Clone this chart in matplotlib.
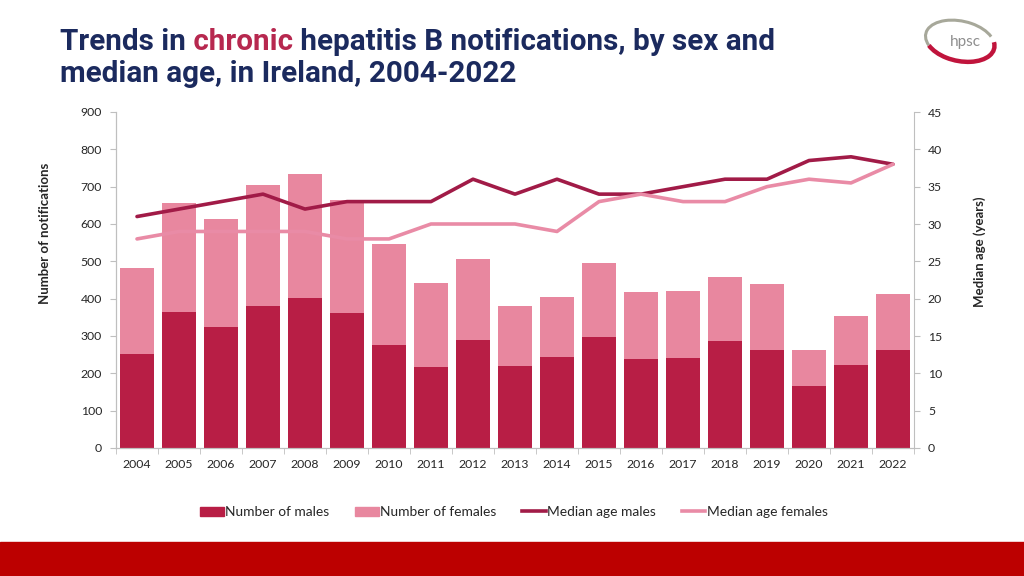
import numpy as np
import matplotlib.pyplot as plt
from matplotlib.patches import Rectangle, Arc, Patch
from matplotlib.lines import Line2D

years = [str(y) for y in range(2004, 2023)]
males = [252, 364, 324, 380, 402, 361, 275, 218, 289, 220, 244, 296, 238, 242, 287, 262, 166, 222, 262]
females = [230, 291, 290, 324, 332, 303, 271, 225, 216, 161, 160, 200, 179, 178, 171, 176, 97, 131, 151]
median_males = [31, 32, 33, 34, 32, 33, 33, 33, 36, 34, 36, 34, 34, 35, 36, 36, 38.5, 39, 38]
median_females = [28, 29, 29, 29, 29, 28, 28, 30, 30, 30, 29, 33, 34, 33, 33, 35, 36, 35.5, 38]

c_male = "#B81E45"
c_female = "#E8879F"
c_mline = "#A11B47"
c_fline = "#E98BA6"
navy = "#1B2A5E"
axis_grey = "#BFBFBF"
text_col = "#262626"

plt.rcParams['font.family'] = ['Lato', 'DejaVu Sans']

fig = plt.figure(figsize=(10.24, 5.76), dpi=100)
ax = fig.add_axes([116 / 1024, 1 - 448 / 576, 798 / 1024, 336 / 576])
ax2 = ax.twinx()

x = np.arange(len(years))
ax.bar(x, males, width=0.79, color=c_male, zorder=2)
ax.bar(x, females, width=0.79, bottom=males, color=c_female, zorder=2)
ax2.plot(x, median_males, color=c_mline, lw=2.6, solid_capstyle='round')
ax2.plot(x, median_females, color=c_fline, lw=2.6, solid_capstyle='round')

ax.set_xlim(-0.5, len(years) - 0.5)
ax.set_ylim(0, 900)
ax2.set_ylim(0, 45)
ax.set_yticks(range(0, 901, 100))
ax2.set_yticks(range(0, 46, 5))
ax.set_xticks(x)
ax.set_xticklabels(years)
ax.set_xticks(np.arange(-0.5, len(years)), minor=True)
ax.tick_params(axis='x', which='major', length=0, pad=8, labelsize=8.8, labelcolor=text_col)
ax.tick_params(axis='x', which='minor', length=4, color=axis_grey)
ax.tick_params(axis='y', length=4, color=axis_grey, labelsize=8.8, labelcolor=text_col, pad=6)
ax2.tick_params(axis='y', length=4, color=axis_grey, labelsize=8.8, labelcolor=text_col, pad=6)

for a in (ax, ax2):
    a.spines['top'].set_visible(False)
    for s in ('left', 'right', 'bottom'):
        a.spines[s].set_color(axis_grey)
ax.spines['right'].set_visible(False)

fig.text(45 / 1024, 1 - 233 / 576, "Number of notifications", rotation=90, ha='center', va='center',
         fontsize=9.5, fontweight='bold', color=text_col)
fig.text(980 / 1024, 1 - 252 / 576, "Median age (years)", rotation=90, ha='center', va='center',
         fontsize=9.5, fontweight='bold', color=text_col)

# title, with "chronic" in red
fig.canvas.draw()
renderer = fig.canvas.get_renderer()
tkw = dict(fontsize=21.3, fontweight='bold', family=['Roboto', 'DejaVu Sans'], va='baseline')
x0 = 60
yb = 576 - 50
for piece, col in [("Trends in", navy), (" chronic", "#B7284F"), (" hepatitis B notifications, by sex and", navy)]:
    t = fig.text(x0 / 1024, yb / 576, piece, color=col, **tkw)
    x0 = t.get_window_extent(renderer).x1
fig.text(60 / 1024, (576 - 82) / 576, "median age, in Ireland, 2004-2022", color=navy, **tkw)

# hpsc logo
lax = fig.add_axes([915 / 1024, 1 - 72 / 576, 90 / 1024, 60 / 576])
lax.set_xlim(0, 90)
lax.set_ylim(0, 60)
lax.axis('off')
lax.add_patch(Arc((45, 31), 70, 40, angle=-12, theta1=20, theta2=200, color="#A7A89A", lw=2.2))
lax.add_patch(Arc((45, 31), 70, 40, angle=-12, theta1=200, theta2=370, color="#C0143C", lw=3.2))
lax.text(50, 30, "hpsc", color="#8E8E8E", fontsize=11, ha='center', va='center')

# legend
handles = [Patch(color=c_male), Patch(color=c_female),
           Line2D([], [], color=c_mline, lw=2.6), Line2D([], [], color=c_fline, lw=2.6)]
labels = ["Number of males", "Number of females", "Median age males", "Median age females"]
fig.legend(handles, labels, loc='center', bbox_to_anchor=(514 / 1024, 1 - 512 / 576), ncol=4,
           frameon=False, fontsize=9.9, handlelength=1.7, handleheight=0.65, handletextpad=0.1,
           columnspacing=1.9, labelcolor=text_col)

# red footer band
fig.patches.append(Rectangle((0, 0), 1, 34 / 576, transform=fig.transFigure, color="#BC0000", zorder=0))

fig.savefig("out.png", dpi=100)
